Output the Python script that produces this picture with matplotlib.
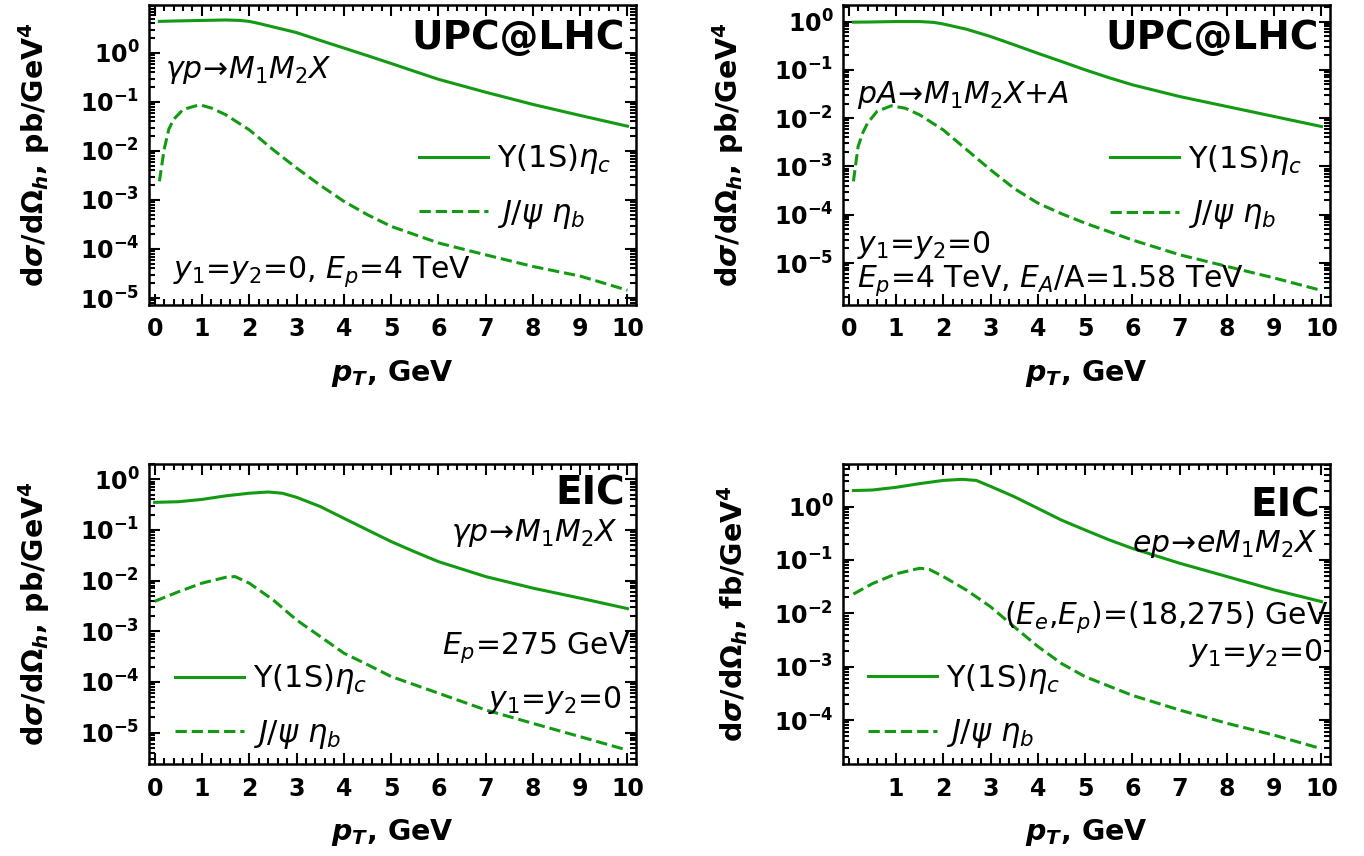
import matplotlib
matplotlib.use("Agg")
import matplotlib.pyplot as plt
import numpy as np
from matplotlib.ticker import FixedLocator, LogLocator, MultipleLocator, FuncFormatter, NullFormatter

plt.rcParams['font.family'] = ['DejaVu Sans']
plt.rcParams['mathtext.fontset'] = 'dejavusans'

GREEN = '#139a13'

# --- data (pT in GeV, cross sections) ---
pt_tl_s = [0.1, 0.5, 1.0, 1.5, 1.8, 2.0, 2.2, 2.5, 2.8, 3.0, 3.5, 4.0, 4.5, 5.0, 5.5, 6.0, 7.0, 8.0, 9.0, 10.0]
tl_solid = [4.4, 4.5, 4.6, 4.7, 4.6, 4.4, 4.0, 3.4, 2.9, 2.6, 1.8, 1.26, 0.88, 0.61, 0.42, 0.29, 0.158,
            0.089, 0.053, 0.032]
pt_tl_d = [0.1, 0.2, 0.3, 0.4, 0.6, 0.9, 1.0, 1.2, 1.5, 2.0, 2.5, 3.0, 3.5, 4.0, 4.5, 5.0, 6.0, 7.0, 8.0,
           9.0, 10.0]
tl_dash = [2.4e-3, 1.07e-2, 0.028, 0.044, 0.07, 0.085, 0.085, 0.075, 0.055, 0.027, 1.07e-2, 4.5e-3,
           2.0e-3, 9.4e-4, 5.0e-4, 2.9e-4, 1.33e-4, 7.6e-5, 4.4e-5, 2.8e-5, 1.44e-5]

pt_tr_s = [0.1, 0.5, 1.0, 1.5, 1.8, 2.0, 2.5, 3.0, 3.5, 4.0, 4.5, 5.0, 5.5, 6.0, 7.0, 8.0, 9.0, 10.0]
tr_solid = [0.97, 0.98, 1.0, 1.0, 0.96, 0.89, 0.69, 0.49, 0.33, 0.22, 0.149, 0.10, 0.069, 0.049, 0.028,
            0.0174, 0.0108, 6.7e-3]
pt_tr_d = [0.1, 0.2, 0.3, 0.4, 0.6, 0.9, 1.2, 1.5, 2.0, 2.5, 3.0, 3.5, 4.0, 4.5, 5.0, 6.0, 7.0, 8.0,
           9.0, 10.0]
tr_dash = [4.9e-4, 2.6e-3, 5.0e-3, 7.9e-3, 0.0138, 0.018, 0.016, 0.0117, 5.7e-3, 2.2e-3, 8.5e-4, 3.5e-4,
           1.74e-4, 1.05e-4, 6.7e-5, 3.0e-5, 1.48e-5, 8.5e-6, 4.9e-6, 2.7e-6]

pt_bl_s = [0.0, 0.5, 1.0, 1.5, 2.0, 2.4, 2.7, 3.0, 3.5, 4.0, 4.5, 5.0, 5.5, 6.0, 7.0, 8.0, 9.0, 10.0]
bl_solid = [0.35, 0.36, 0.40, 0.47, 0.53, 0.56, 0.53, 0.44, 0.29, 0.17, 0.10, 0.059, 0.037, 0.0237,
            0.012, 7.1e-3, 4.5e-3, 2.8e-3]
pt_bl_d = [0.0, 0.5, 1.0, 1.5, 1.7, 2.0, 2.5, 3.0, 3.5, 4.0, 4.5, 5.0, 6.0, 7.0, 8.0, 9.0, 10.0]
bl_dash = [3.9e-3, 6.0e-3, 8.9e-3, 0.0116, 0.012, 8.9e-3, 4.2e-3, 1.67e-3, 7.9e-4, 3.7e-4, 2.2e-4,
           1.28e-4, 6.0e-5, 2.8e-5, 1.52e-5, 8.3e-6, 4.5e-6]

pt_br_s = [0.1, 0.5, 1.0, 1.5, 2.0, 2.4, 2.7, 3.0, 3.5, 4.0, 4.5, 5.0, 5.5, 6.0, 7.0, 8.0, 9.0, 10.0]
br_solid = [2.0, 2.05, 2.3, 2.7, 3.1, 3.25, 3.1, 2.4, 1.54, 0.93, 0.56, 0.365, 0.24, 0.165, 0.087, 0.049,
            0.0275, 0.0166]
pt_br_d = [0.1, 0.5, 1.0, 1.5, 1.7, 2.0, 2.5, 3.0, 3.5, 4.0, 4.5, 5.0, 6.0, 7.0, 8.0, 9.0, 10.0]
br_dash = [0.023, 0.036, 0.055, 0.070, 0.067, 0.049, 0.027, 0.0133, 5.6e-3, 2.4e-3, 1.15e-3, 6.5e-4,
           2.9e-4, 1.54e-4, 8.7e-5, 5.2e-5, 2.9e-5]

label_solid = r'$\Upsilon$(1S)$\eta_c$'
label_dash = r'$J/\psi\ \eta_b$'
ylab_pb = r'd$\boldsymbol{\sigma}$/d$\mathbf{\Omega}_{\boldsymbol{h}}$, pb/GeV$^\mathbf{4}$'
ylab_fb = r'd$\boldsymbol{\sigma}$/d$\mathbf{\Omega}_{\boldsymbol{h}}$, fb/GeV$^\mathbf{4}$'
xlab = r'$\boldsymbol{p}_{\boldsymbol{T}}$, GeV'


def decade(v, pos):
    return r'$\mathbf{10^{%d}}$' % int(round(np.log10(v)))


fig = plt.figure(figsize=(13.64, 8.56), dpi=100)
W, H = 1364.0, 856.0


def make_ax(x0, y0):
    return fig.add_axes([x0 / W, 1 - (y0 + 300) / H, 487 / W, 300 / H])


def style(ax, ylim, ylab, decs, xt, ylabpad):
    ax.set_yscale('log')
    ax.set_xlim(-0.12, 10.18)
    ax.set_ylim(*ylim)
    ax.xaxis.set_major_locator(FixedLocator(xt))
    ax.xaxis.set_minor_locator(MultipleLocator(0.2))
    ax.yaxis.set_major_locator(FixedLocator([10.0 ** d for d in decs]))
    ax.yaxis.set_major_formatter(FuncFormatter(decade))
    ax.yaxis.set_minor_locator(LogLocator(base=10, subs=np.arange(2, 10), numticks=20))
    ax.yaxis.set_minor_formatter(NullFormatter())
    ax.tick_params(which='both', direction='in', top=True, right=True, width=1.5)
    ax.tick_params(which='major', length=8, labelsize=17)
    ax.tick_params(axis='x', which='major', pad=9)
    ax.tick_params(axis='y', which='major', pad=7)
    ax.tick_params(which='minor', length=4)
    for lab in ax.get_xticklabels():
        lab.set_fontweight('bold')
    for s in ax.spines.values():
        s.set_linewidth(1.8)
    ax.set_xlabel(xlab, fontsize=20.5, fontweight='bold', labelpad=12)
    ax.set_ylabel(ylab, fontsize=20.5, fontweight='bold', labelpad=ylabpad)


def curves(ax, xs, ys, xd, yd):
    ax.plot(xs, ys, '-', color=GREEN, lw=2.2, label=label_solid)
    ax.plot(xd, yd, '--', color=GREEN, lw=2.2, label=label_dash)


def legend(ax, x, y):
    ax.legend(loc='center left', bbox_to_anchor=(x, y), frameon=False, fontsize=22,
              handlelength=2.25, labelspacing=0.7, handletextpad=0.3,
              borderpad=0, borderaxespad=0)


TXT = 21.5
BIG = 28

# top left
ax1 = make_ax(149, 5)
curves(ax1, pt_tl_s, tl_solid, pt_tl_d, tl_dash)
style(ax1, (7.2e-6, 9.5), ylab_pb, range(0, -6, -1), range(0, 11), 20)
ax1.text(0.977, 0.89, 'UPC@LHC', transform=ax1.transAxes, ha='right', va='center',
         fontsize=BIG, fontweight='bold')
ax1.text(0.033, 0.783, r'$\gamma p\!\rightarrow\! M_1M_2X$', transform=ax1.transAxes,
         ha='left', va='center', fontsize=TXT)
ax1.text(0.049, 0.11, r'$y_1$=$y_2$=0, $E_p$=4 TeV', transform=ax1.transAxes,
         ha='left', va='center', fontsize=TXT)
legend(ax1, 0.554, 0.395)

# top right
ax2 = make_ax(843, 5)
curves(ax2, pt_tr_s, tr_solid, pt_tr_d, tr_dash)
style(ax2, (1.35e-6, 2.2), ylab_pb, range(0, -6, -1), range(0, 11), 20)
ax2.text(0.977, 0.89, 'UPC@LHC', transform=ax2.transAxes, ha='right', va='center',
         fontsize=BIG, fontweight='bold')
ax2.text(0.029, 0.70, r'$pA\!\rightarrow\! M_1M_2X$+$A$', transform=ax2.transAxes,
         ha='left', va='center', fontsize=TXT)
ax2.text(0.029, 0.20, r'$y_1$=$y_2$=0', transform=ax2.transAxes,
         ha='left', va='center', fontsize=TXT)
ax2.text(0.029, 0.083, r'$E_p$=4 TeV, $E_A$/A=1.58 TeV', transform=ax2.transAxes,
         ha='left', va='center', fontsize=TXT)
legend(ax2, 0.548, 0.393)

# bottom left
ax3 = make_ax(149, 464)
curves(ax3, pt_bl_s, bl_solid, pt_bl_d, bl_dash)
style(ax3, (2.4e-6, 2.0), ylab_pb, range(0, -6, -1), range(0, 11), 20)
ax3.text(0.977, 0.903, 'EIC', transform=ax3.transAxes, ha='right', va='center',
         fontsize=BIG, fontweight='bold')
ax3.text(0.961, 0.77, r'$\gamma p\!\rightarrow\! M_1M_2X$', transform=ax3.transAxes,
         ha='right', va='center', fontsize=TXT)
ax3.text(0.988, 0.387, r'$E_p$=275 GeV', transform=ax3.transAxes,
         ha='right', va='center', fontsize=TXT)
ax3.text(0.971, 0.213, r'$y_1$=$y_2$=0', transform=ax3.transAxes,
         ha='right', va='center', fontsize=TXT)
legend(ax3, 0.053, 0.192)

# bottom right
ax4 = make_ax(843, 464)
curves(ax4, pt_br_s, br_solid, pt_br_d, br_dash)
style(ax4, (1.5e-5, 6.3), ylab_fb, range(0, -5, -1), range(1, 11), 17)
ax4.text(0.979, 0.862, 'EIC', transform=ax4.transAxes, ha='right', va='center',
         fontsize=BIG, fontweight='bold')
ax4.text(0.975, 0.735, r'$ep\!\rightarrow\! eM_1M_2X$', transform=ax4.transAxes,
         ha='right', va='center', fontsize=TXT)
ax4.text(0.996, 0.49, r'($E_e$,$E_p$)=(18,275) GeV', transform=ax4.transAxes,
         ha='right', va='center', fontsize=TXT)
ax4.text(0.984, 0.37, r'$y_1$=$y_2$=0', transform=ax4.transAxes,
         ha='right', va='center', fontsize=TXT)
legend(ax4, 0.051, 0.193)

fig.savefig('out.png', dpi=100)
